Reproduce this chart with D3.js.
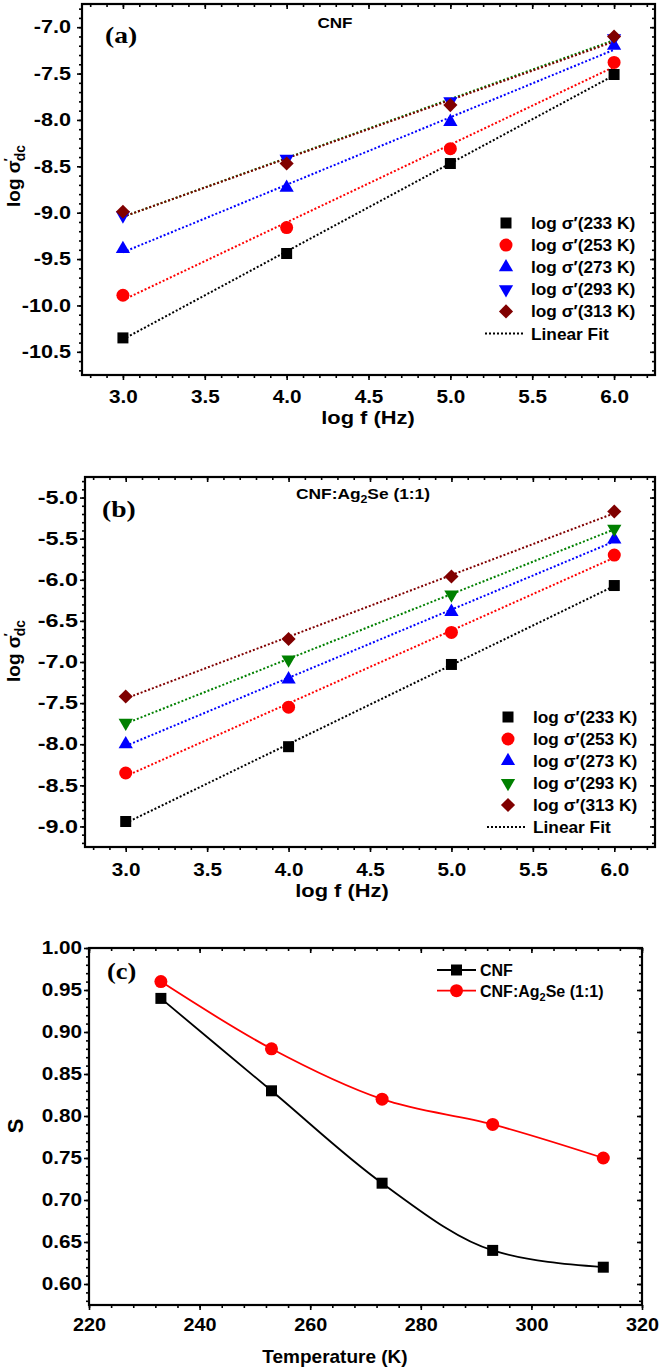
<!DOCTYPE html>
<html>
<head>
<meta charset="utf-8">
<script src="https://cdn.jsdelivr.net/npm/d3@7"></script>
<style>
  body { margin: 0; background: #fff; }
  svg { display: block; font-family: "Liberation Sans", Arial, sans-serif; }
</style>
</head>
<body>
<div id="container"></div>
<script>
// log f (Hz) values, shared by (a) and (b)
const logF = [3, 4, 5, 6];
const tempLabels = ["233 K", "253 K", "273 K", "293 K", "313 K"];

// (a) CNF, log sigma'
const cnf233 = [-10.35, -9.44, -8.47, -7.51];
const cnf253 = [-9.89, -9.16, -8.31, -7.38];
const cnf273 = [-9.39, -8.73, -8.02, -7.20];
const cnf293 = [-9.03, -8.42, -7.80, -7.12];
const cnf313 = [-8.99, -8.47, -7.84, -7.10];

// (b) CNF:Ag2Se (1:1), log sigma'
const cag233 = [-8.94, -8.03, -7.03, -6.07];
const cag253 = [-8.35, -7.55, -6.64, -5.70];
const cag273 = [-8.00, -7.21, -6.39, -5.51];
const cag293 = [-7.74, -6.97, -6.18, -5.38];
const cag313 = [-7.42, -6.72, -5.96, -5.17];

// (c) exponent S vs temperature
const temps = [233, 253, 273, 293, 313];
const sCnf = [0.94, 0.83, 0.72, 0.64, 0.62];
const sCag = [0.96, 0.88, 0.82, 0.79, 0.75];

const freqTicks = [3.0, 3.5, 4.0, 4.5, 5.0, 5.5, 6.0];
const tempTicks = [220, 240, 260, 280, 300, 320];
const sTicks = [0.60, 0.65, 0.70, 0.75, 0.80, 0.85, 0.90, 0.95, 1.00];

const width = 661, height = 1369;
const svg = d3.select("#container").append("svg")
	.attr("width", width)
	.attr("height", height);

const sym = {
	square: d3.symbol(d3.symbolSquare, 121),
	circle: d3.symbol(d3.symbolCircle, 133),
	up: d3.symbol(d3.symbolTriangle, 88),
	diamond: d3.symbol(d3.symbolSquare, 100)
};
function marker(g, type, x, y, color) {
	const rot = type === "down" ? 180 : type === "diamond" ? 45 : 0;
	const gen = type === "down" ? sym.up : sym[type];
	g.append("path")
		.attr("d", gen())
		.attr("transform", `translate(${x},${y}) rotate(${rot})`)
		.attr("fill", color);
}

function txt(x, y, str, size, o = {}) {
	return svg.append("text")
		.attr("transform", `translate(${x},${y})${o.rot ? ` rotate(${o.rot})` : ""} scale(${o.sx || 1},1)`)
		.attr("font-size", size)
		.attr("font-weight", "bold")
		.attr("font-family", o.family || null)
		.attr("text-anchor", o.anchor || "start")
		.text(str);
}

function fitLine(xs, ys) {
	const mx = d3.mean(xs), my = d3.mean(ys);
	const b = d3.sum(xs, (v, i) => (v - mx) * (ys[i] - my)) / d3.sum(xs, (v) => (v - mx) ** 2);
	return (v) => my + b * (v - mx);
}

function axes(x, y, o) {
	const [x0, x1] = x.range();
	const [y0, y1] = y.range();
	const g = svg.append("g");
	const plain = (a, vals, size) => a.tickValues(vals).tickSize(size).tickFormat("");

	g.append("g").attr("transform", `translate(0,${y0})`).call(plain(d3.axisBottom(x), o.xMinor, 3));
	const bx = g.append("g").attr("transform", `translate(0,${y0})`)
		.call(d3.axisBottom(x).tickValues(o.xMajor).tickSize(5).tickPadding(o.xPad).tickFormat(o.xFmt));
	g.append("g").attr("transform", `translate(0,${y1})`).call(plain(d3.axisBottom(x), o.xMinor, 3));
	g.append("g").attr("transform", `translate(0,${y1})`).call(plain(d3.axisBottom(x), o.xMajor, 5));

	g.append("g").attr("transform", `translate(${x0},0)`).call(plain(d3.axisLeft(y), o.yMinor, 3));
	const ly = g.append("g").attr("transform", `translate(${x0},0)`)
		.call(d3.axisLeft(y).tickValues(o.yMajor).tickSize(5).tickPadding(o.yPad).tickFormat(o.yFmt));
	g.append("g").attr("transform", `translate(${x1},0)`).call(plain(d3.axisLeft(y), o.yMinor, 3));
	g.append("g").attr("transform", `translate(${x1},0)`).call(plain(d3.axisLeft(y), o.yMajor, 5));

	g.selectAll(".domain").remove();
	g.selectAll(".tick line").attr("stroke", "#000").attr("stroke-width", 1.6);
	bx.selectAll("text")
		.attr("font-size", o.fs).attr("font-weight", "bold").attr("fill", "#000")
		.attr("font-family", "Liberation Sans, Arial, sans-serif")
		.attr("transform", `scale(${o.sx},1)`);
	ly.selectAll("text")
		.attr("font-size", o.fs).attr("font-weight", "bold").attr("fill", "#000")
		.attr("font-family", "Liberation Sans, Arial, sans-serif")
		.attr("x", -(5 + o.yPad) / o.syx)
		.attr("transform", `scale(${o.syx},1)`);

	g.append("rect")
		.attr("x", x0).attr("y", y1)
		.attr("width", x1 - x0).attr("height", y0 - y1)
		.attr("fill", "none").attr("stroke", "#000").attr("stroke-width", 2.2);
}

function sigmaTitle(x, y) {
	const t = svg.append("text")
		.attr("transform", `translate(${x},${y}) rotate(-90)`)
		.attr("font-size", 19).attr("font-weight", "bold")
		.attr("text-anchor", "middle");
	t.append("tspan").text("log σ");
	t.append("tspan").attr("font-size", 12).attr("dy", -7).attr("dx", -1).text("′");
	t.append("tspan").attr("font-size", 14).attr("dy", 12).attr("dx", -3).text("dc");
}

function logPanel(x, y, series, o) {
	axes(x, y, {
		xMajor: freqTicks, xMinor: d3.range(28, 63).map((v) => v / 10), xPad: o.xPad, xFmt: (d) => d.toFixed(1),
		yMajor: o.yTicks, yMinor: o.yMinor, yPad: o.yPad, yFmt: (d) => d.toFixed(1),
		fs: 18, sx: 1.15, syx: o.syx
	});

	const lines = svg.append("g");
	const marks = svg.append("g");
	series.forEach((s) => {
		const f = fitLine(logF, s.values);
		lines.append("path")
			.attr("d", d3.line().x((d) => x(d)).y((d) => y(f(d)))([3, 6]))
			.attr("fill", "none")
			.attr("stroke", s.line)
			.attr("stroke-width", 2)
			.attr("stroke-dasharray", "2,2");
	});
	series.forEach((s) => {
		s.values.forEach((v, i) => marker(marks, s.shape, x(logF[i]), y(v), s.color));
	});

	// legend
	const lg = svg.append("g");
	series.forEach((s, i) => {
		const ry = o.legY + i * o.legStep;
		marker(lg, s.shape, o.legX, ry, s.color);
		txt(o.legX + 25, ry + 6, "log σ′(" + tempLabels[i] + ")", 16, { sx: 1.08 });
	});
	const fy = o.legY + series.length * o.legStep;
	lg.append("line")
		.attr("x1", o.legX - 21).attr("x2", o.legX + 17)
		.attr("y1", fy).attr("y2", fy)
		.attr("stroke", "#000").attr("stroke-width", 2).attr("stroke-dasharray", "2,2");
	txt(o.legX + 25, fy + 6, "Linear Fit", 16, { sx: 1.08 });
}

// ---------- (a) ----------
const xA = d3.scaleLinear().domain([2.75, 6.25]).range([82, 655]);
const yA = d3.scaleLinear().domain([-10.75, -6.75]).range([375, 4]);
logPanel(xA, yA, [
	{ values: cnf233, shape: "square", color: "#000000", line: "#000000" },
	{ values: cnf253, shape: "circle", color: "#ff0000", line: "#ff0000" },
	{ values: cnf273, shape: "up", color: "#0000ff", line: "#0000ff" },
	{ values: cnf293, shape: "down", color: "#0000ff", line: "#008000" },
	{ values: cnf313, shape: "diamond", color: "#800000", line: "#800000" }
], {
	yTicks: [-10.5, -10.0, -9.5, -9.0, -8.5, -8.0, -7.5, -7.0],
	yMinor: d3.range(-107, -67).map((v) => v / 10),
	xPad: 10, yPad: 6, syx: 1.2,
	legX: 506, legY: 223, legStep: 22.1
});
txt(105, 43, "(a)", 24, { family: "Liberation Serif, Times New Roman, serif", sx: 1.15 });
txt(335, 28, "CNF", 15.5, { anchor: "middle", sx: 1.1 });
txt(368, 424, "log f (Hz)", 19, { anchor: "middle", sx: 1.15 });
sigmaTitle(20, 176);

// ---------- (b) ----------
const xB = d3.scaleLinear().domain([2.75, 6.25]).range([85, 655]);
const yB = d3.scaleLinear().domain([-9.25, -4.75]).range([847, 477]);
logPanel(xB, yB, [
	{ values: cag233, shape: "square", color: "#000000", line: "#000000" },
	{ values: cag253, shape: "circle", color: "#ff0000", line: "#ff0000" },
	{ values: cag273, shape: "up", color: "#0000ff", line: "#0000ff" },
	{ values: cag293, shape: "down", color: "#008000", line: "#008000" },
	{ values: cag313, shape: "diamond", color: "#800000", line: "#800000" }
], {
	yTicks: [-9.0, -8.5, -8.0, -7.5, -7.0, -6.5, -6.0, -5.5, -5.0],
	yMinor: d3.range(-92, -47).map((v) => v / 10),
	xPad: 11, yPad: 2, syx: 1.3,
	legX: 508, legY: 717, legStep: 22
});
txt(102, 517, "(b)", 24, { family: "Liberation Serif, Times New Roman, serif", sx: 1.15 });
const tb = txt(296, 499, "CNF:Ag", 15.5, { sx: 1.12 });
tb.append("tspan").attr("font-size", 11).attr("dy", 4).text("2");
tb.append("tspan").attr("dy", -4).text("Se (1:1)");
txt(342, 897, "log f (Hz)", 19, { anchor: "middle", sx: 1.15 });
sigmaTitle(20, 651);

// ---------- (c) ----------
const xC = d3.scaleLinear().domain([220, 320]).range([89, 642]);
const yC = d3.scaleLinear().domain([0.575, 1.0]).range([1305, 948]);
axes(xC, yC, {
	xMajor: tempTicks, xMinor: d3.range(220, 321, 4), xPad: 8, xFmt: (d) => d,
	yMajor: sTicks, yMinor: d3.range(58, 101).map((v) => v / 100), yPad: 2, yFmt: (d) => d.toFixed(2),
	fs: 18, sx: 1.1, syx: 1.15
});
const sSeries = [
	{ values: sCnf, shape: "square", color: "#000000", name: "CNF" },
	{ values: sCag, shape: "circle", color: "#ff0000", name: "CNF:Ag2Se (1:1)" }
];
const curve = d3.line().x((d, i) => xC(temps[i])).y((d) => yC(d)).curve(d3.curveMonotoneX);
const cg = svg.append("g");
sSeries.forEach((s) => {
	cg.append("path").attr("d", curve(s.values))
		.attr("fill", "none").attr("stroke", s.color).attr("stroke-width", 1.8);
});
sSeries.forEach((s) => {
	s.values.forEach((v, i) => marker(cg, s.shape, xC(temps[i]), yC(v), s.color));
});
// legend (c)
sSeries.forEach((s, i) => {
	const ry = 970 + i * 20.7;
	svg.append("line").attr("x1", 437).attr("x2", 476).attr("y1", ry).attr("y2", ry)
		.attr("stroke", s.color).attr("stroke-width", 1.8);
	marker(svg, s.shape, 456.5, ry, s.color);
});
txt(480, 976, "CNF", 16);
const tc = txt(480, 997, "CNF:Ag", 16);
tc.append("tspan").attr("font-size", 11).attr("dy", 4).text("2");
tc.append("tspan").attr("dy", -4).text("Se (1:1)");
txt(107, 979, "(c)", 24, { family: "Liberation Serif, Times New Roman, serif", sx: 1.1 });
txt(335, 1363, "Temperature (K)", 19, { anchor: "middle" });
txt(23, 1126, "S", 22, { anchor: "middle", rot: -90 });
</script>
</body>
</html>
